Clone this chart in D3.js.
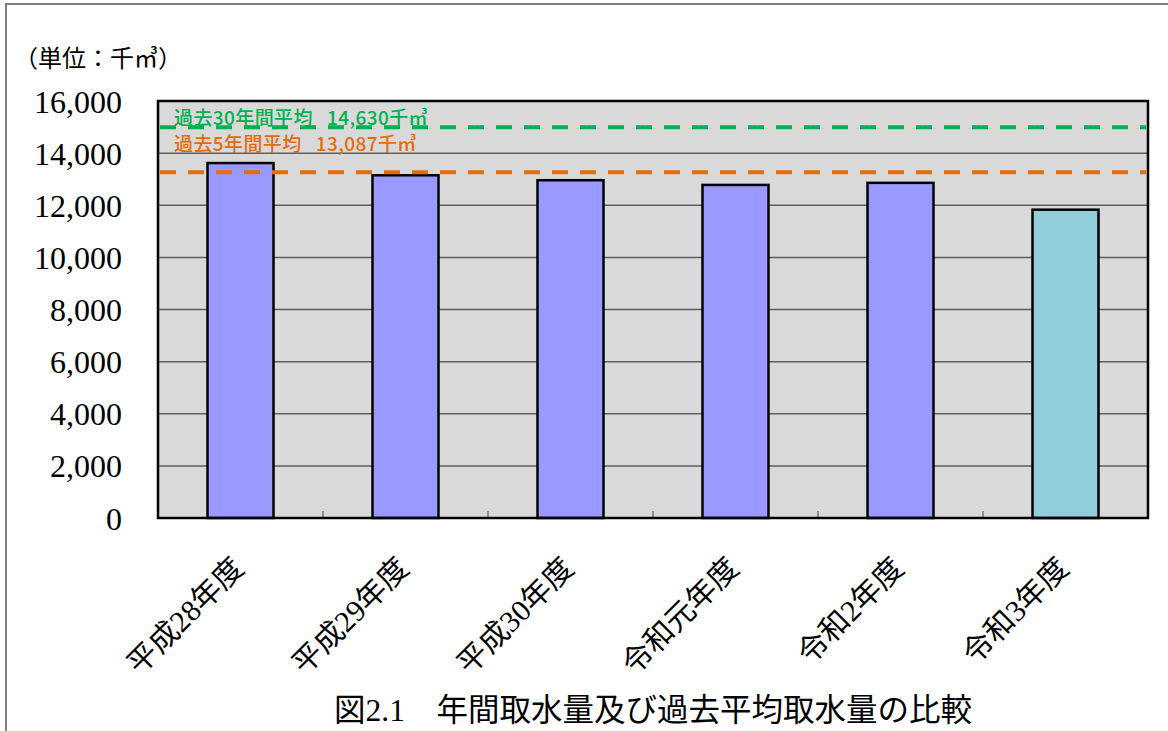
<!DOCTYPE html>
<head>
<meta charset="utf-8">
<title>年間取水量</title>
<style>
body { margin: 0; background: #fff; }
</style>
</head>
<body>
<svg id="chart" width="1168" height="731"></svg>
<script src="https://cdn.jsdelivr.net/npm/d3@7"></script>
<script>
//----------------------------DATA-----------------------------//
var categories = ["平成28年度", "平成29年度", "平成30年度", "令和元年度", "令和2年度", "令和3年度"];
var intake = [13620, 13150, 12960, 12780, 12860, 11830];   // 千㎥
var yTicks = [0, 2000, 4000, 6000, 8000, 10000, 12000, 14000, 16000];
// the dashed average lines, at the height they are drawn in the picture
var avgLevels = [14990, 13270];
var avgLabels = ["過去30年間平均\u2002\u200914,630千㎥", "過去5年間平均\u2002\u200913,087千㎥"];
var avgColors = ["#00b050", "#e46c0a"];

//----------------------------SVG------------------------------//
var svg = d3.select("svg");
var plot = {left: 158, right: 1148, top: 101, bottom: 518};
var serif = "'Liberation Serif', 'Noto Sans CJK JP', serif";
var sans = "'Noto Sans CJK JP', sans-serif";

// outer frame (only top and left edges are inside the picture)
svg.append("path")
    .attr("d", "M6,731V4H1168")
    .attr("fill", "none")
    .attr("stroke", "#7f7f7f")
    .attr("stroke-width", 2);

var x = d3.scaleBand().domain(categories)
    .range([plot.left, plot.right])
    .paddingInner(0.6).paddingOuter(0.3);
var xCell = d3.scaleBand().domain(categories).range([plot.left, plot.right]);
var y = d3.scaleLinear().domain([0, 16000]).range([plot.bottom, plot.top]);

// plot background
svg.append("rect")
    .attr("x", plot.left).attr("y", plot.top)
    .attr("width", plot.right - plot.left).attr("height", plot.bottom - plot.top)
    .attr("fill", "#d9d9d9");

// gridlines
svg.append("g").selectAll("line")
    .data(yTicks.filter(function (d) { return d > 0 && d < 16000; }))
    .enter().append("line")
    .attr("x1", plot.left).attr("x2", plot.right)
    .attr("y1", function (d) { return y(d); })
    .attr("y2", function (d) { return y(d); })
    .attr("stroke", "#5f5f5f")
    .attr("stroke-width", 1.5);

// category boundary ticks
svg.append("g").selectAll("line")
    .data(categories.slice(1))
    .enter().append("line")
    .attr("x1", function (d) { return xCell(d); })
    .attr("x2", function (d) { return xCell(d); })
    .attr("y1", plot.bottom).attr("y2", plot.bottom - 7)
    .attr("stroke", "#5f5f5f")
    .attr("stroke-width", 1.2);

//----------------------------BARS-----------------------------//
svg.append("g").selectAll("rect")
    .data(categories)
    .enter().append("rect")
    .attr("x", function (d) { return x(d); })
    .attr("width", x.bandwidth())
    .attr("y", function (d, i) { return y(intake[i]); })
    .attr("height", function (d, i) { return y(0) - y(intake[i]); })
    .attr("fill", function (d, i) { return i === categories.length - 1 ? "#92cddc" : "#9999ff"; })
    .attr("stroke", "#000")
    .attr("stroke-width", 2.5);

// plot border
svg.append("rect")
    .attr("x", plot.left).attr("y", plot.top)
    .attr("width", plot.right - plot.left).attr("height", plot.bottom - plot.top)
    .attr("fill", "none")
    .attr("stroke", "#000")
    .attr("stroke-width", 2.5);

//-----------------------AVERAGE LINES-------------------------//
svg.append("g").selectAll("line")
    .data(avgLevels)
    .enter().append("line")
    .attr("x1", plot.left + 2).attr("x2", plot.right - 2)
    .attr("y1", function (d) { return y(d); })
    .attr("y2", function (d) { return y(d); })
    .attr("stroke", function (d, i) { return avgColors[i]; })
    .attr("stroke-width", 4)
    .attr("stroke-dasharray", "16,12");

svg.append("g").selectAll("text")
    .data(avgLabels)
    .enter().append("text")
    .attr("x", 174)
    .attr("y", function (d, i) { return i === 0 ? 125 : 151; })
    .attr("fill", function (d, i) { return avgColors[i]; })
    .style("font", "500 19px " + sans)
    .style("letter-spacing", "0.4px")
    .text(function (d) { return d; });

//----------------------------AXES-----------------------------//
svg.append("g").selectAll("text")
    .data(yTicks)
    .enter().append("text")
    .attr("x", 122)
    .attr("y", function (d) { return y(d); })
    .attr("dy", "0.36em")
    .attr("text-anchor", "end")
    .style("font", "32px " + serif)
    .text(function (d) { return d3.format(",")(d); });

svg.append("g").selectAll("text")
    .data(categories)
    .enter().append("text")
    .attr("text-anchor", "end")
    .attr("transform", function (d) {
        return "translate(" + (xCell(d) + xCell.bandwidth() / 2 + 5) + "," + (plot.bottom + 52) + ") rotate(-45)";
    })
    .style("font", "30px " + serif)
    .text(function (d) { return d; });

svg.append("text")
    .attr("x", 14).attr("y", 67)
    .style("font", "24px " + serif)
    .text("（単位：千㎥）");

svg.append("text")
    .attr("x", 653).attr("y", 721)
    .attr("text-anchor", "middle")
    .style("font", "31.5px " + serif)
    .text("図2.1\u3000年間取水量及び過去平均取水量の比較");
</script>
</body>
